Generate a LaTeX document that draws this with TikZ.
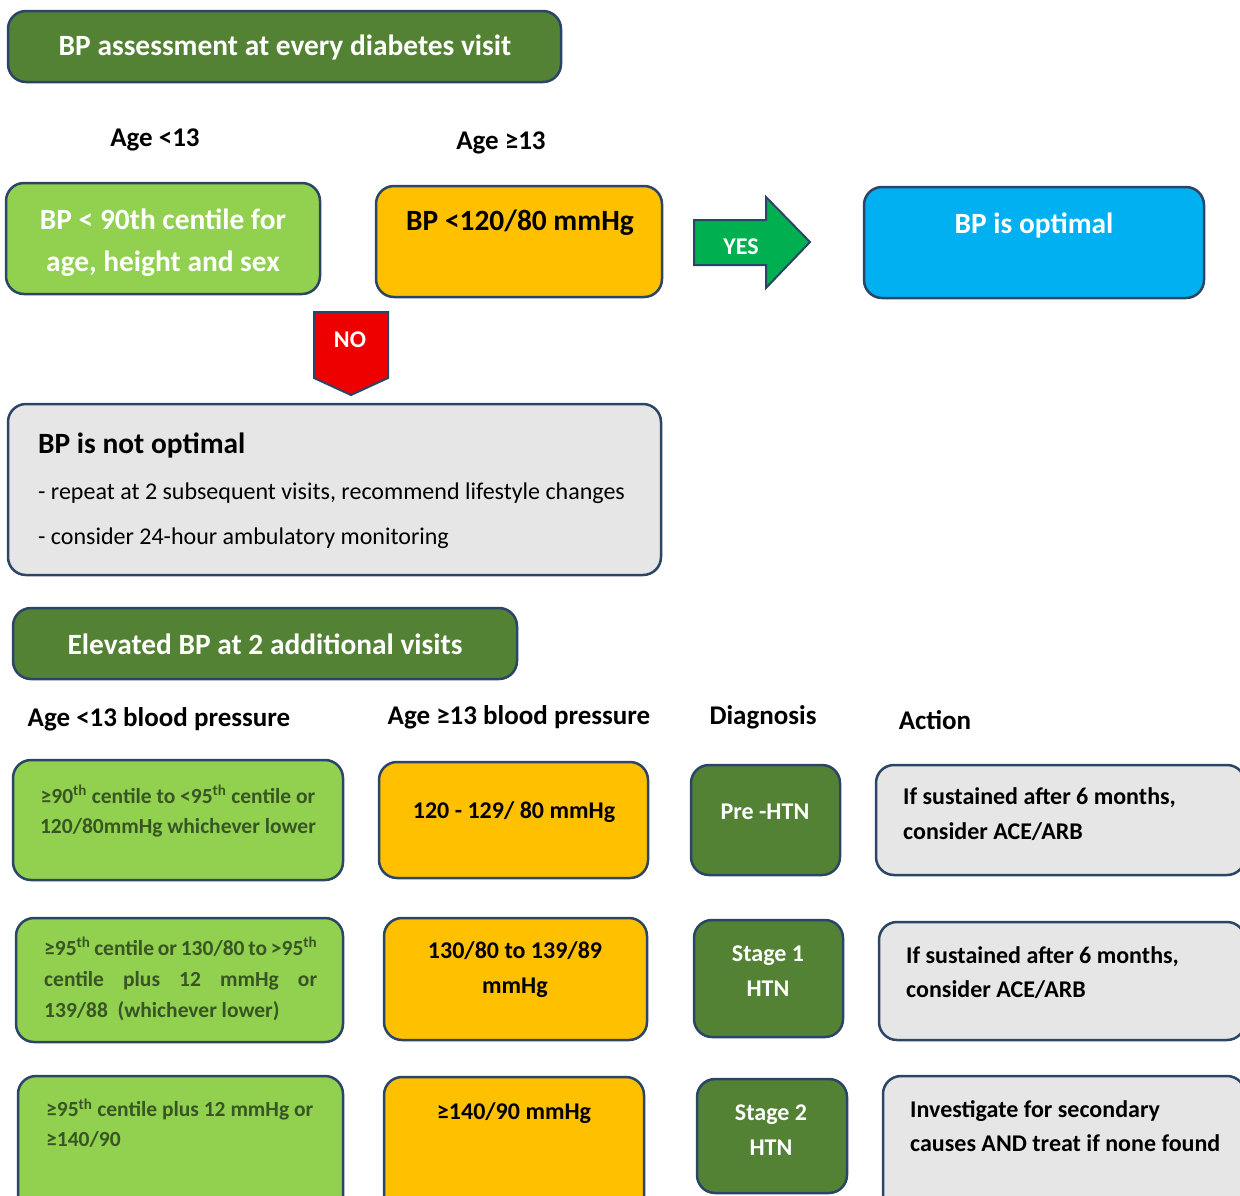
\documentclass[tikz,border=0pt]{standalone}
\usepackage{fontspec}
\setmainfont{Carlito}
\usetikzlibrary{positioning}

\definecolor{edge}{HTML}{2B4566}
\definecolor{darkgreen}{HTML}{548235}
\definecolor{lightgreen}{HTML}{92D050}
\definecolor{amber}{HTML}{FFC000}
\definecolor{skyblue}{HTML}{00B0F0}
\definecolor{lightgrey}{HTML}{E7E6E6}
\definecolor{yesgreen}{HTML}{00B050}
\definecolor{nored}{HTML}{EE0000}
\definecolor{greentext}{HTML}{375623}

\tikzset{
  box/.style={draw=edge, line width=2.5pt, rounded corners=18pt, inner sep=0pt},
  txt/.style={inner sep=0pt, font=\bfseries\fontsize{#1}{30}\selectfont},
  txt/.default=24,
  head/.style={inner sep=0pt, font=\bfseries\fontsize{27}{30}\selectfont},
}

\begin{document}
\begin{tikzpicture}[x=1pt, y=-1pt]
\useasboundingbox (0,0) rectangle (1240,1195);

% first part: screening
\node[box, fill=darkgreen, minimum width=553pt, minimum height=71pt] (visit) at (284.5,46.5) {};
\node[txt=29.4, text=white] (visittxt) at (285,47) {BP assessment at every diabetes visit};

\node[head] (young) at (155,140) {Age <13};
\node[head] (old) at (501,143) {Age ≥13};

\node[box, fill=lightgreen, minimum width=314pt, minimum height=111pt] (centile) at (163,238.5) {};
\node[inner sep=0pt, text=white, align=center, font=\bfseries\fontsize{29.4}{42}\selectfont] (centiletxt) at (163,243)
  {BP < 90th centile for\\age, height and sex};

\node[box, fill=amber, minimum width=286pt, minimum height=111pt] (limit) at (519,241.5) {};
\node[txt=29.4] (limittxt) at (520,223) {BP <120/80 mmHg};

\node[box, fill=skyblue, minimum width=340pt, minimum height=111pt] (optimal) at (1034,242.5) {};
\node[txt=29.4, text=white] (optimaltxt) at (1034,225) {BP is optimal};

% yes / no arrows
\draw[fill=yesgreen, draw=edge, line width=2pt]
  (694,220) -- (766,220) -- (766,197) -- (810,242) -- (766,288) -- (766,265) -- (694,265) -- cycle;
\node[txt=24, text=white] (yes) at (741,247) {YES};
\draw[fill=nored, draw=edge, line width=2pt]
  (314,312) -- (388,312) -- (388,378) -- (351,395) -- (314,378) -- cycle;
\node[txt=24, text=white] (no) at (350,340) {NO};

\node[box, fill=lightgrey, minimum width=653pt, minimum height=171pt] (notopt) at (334.5,489.5) {};
\node[txt=29.4, anchor=west] (notopttxt) at (38,445) {BP is not optimal};
\node[inner sep=0pt, anchor=west, font=\fontsize{24}{26}\selectfont] (repeat) at (38,493)
  {- repeat at 2 subsequent visits, recommend lifestyle changes};
\node[inner sep=0pt, anchor=west, font=\fontsize{24}{26}\selectfont] (ambulatory) at (38,538)
  {- consider 24-hour ambulatory monitoring};

% second part: staging
\node[box, fill=darkgreen, minimum width=504pt, minimum height=71pt] (elevated) at (265,643.5) {};
\node[txt=29.4, text=white] (elevatedtxt) at (265,644) {Elevated BP at 2 additional visits};

\node[head] (headyoung) at (159,719) {Age <13 blood pressure};
\node[head] (headold) at (519,717) {Age ≥13 blood pressure};
\node[head] (headdiag) at (763,717) {Diagnosis};
\node[head] (headact) at (935,720) {Action};

% row 1
\node[box, fill=lightgreen, minimum width=330pt, minimum height=120pt] (young1) at (178,820) {};
\node[inner sep=0pt, text=greentext, align=center, font=\bfseries\fontsize{21.5}{30}\selectfont] (young1txt) at (178,811)
  {≥90\textsuperscript{th} centile to <95\textsuperscript{th} centile or\\120/80mmHg whichever lower};
\node[box, fill=amber, minimum width=269pt, minimum height=116pt] (old1) at (513.5,820) {};
\node[txt] (old1txt) at (514,812) {120 - 129/ 80 mmHg};
\node[box, fill=darkgreen, minimum width=149pt, minimum height=110pt] (diag1) at (765.5,820) {};
\node[txt, text=white] (diag1txt) at (765,812) {Pre -HTN};
\node[box, fill=lightgrey, minimum width=369pt, minimum height=110pt] (act1) at (1060.5,820) {};
\node[inner sep=0pt, anchor=west, align=left, font=\bfseries\fontsize{24}{35}\selectfont] (act1txt) at (903,814.5)
  {If sustained after 6 months,\\consider ACE/ARB};

% row 2
\node[box, fill=lightgreen, minimum width=327pt, minimum height=124pt] (young2) at (179.5,980) {};
\node[inner sep=0pt, anchor=west, text width=273pt, align=justify, text=greentext,
  font=\bfseries\fontsize{21.5}{31}\selectfont] (young2txt) at (44,979)
  {≥95\textsuperscript{th} centile or 130/80 to >95\textsuperscript{th}\linebreak
   centile plus 12 mmHg or\linebreak 139/88\ \ (whichever lower)};
\node[box, fill=amber, minimum width=263pt, minimum height=122pt] (old2) at (515.5,979) {};
\node[inner sep=0pt, align=center, font=\bfseries\fontsize{24}{35}\selectfont] (old2txt) at (515,969.5)
  {130/80 to 139/89\\mmHg};
\node[box, fill=darkgreen, minimum width=149pt, minimum height=117pt] (diag2) at (768.5,978.5) {};
\node[inner sep=0pt, text=white, align=center, font=\bfseries\fontsize{24}{35}\selectfont] (diag2txt) at (768,971)
  {Stage 1\\HTN};
\node[box, fill=lightgrey, minimum width=366pt, minimum height=118pt] (act2) at (1062,981) {};
\node[inner sep=0pt, anchor=west, align=left, font=\bfseries\fontsize{24}{34}\selectfont] (act2txt) at (906,973)
  {If sustained after 6 months,\\consider ACE/ARB};

% row 3
\node[box, fill=lightgreen, minimum width=325pt, minimum height=139pt] (young3) at (180.5,1145.5) {};
\node[inner sep=0pt, anchor=west, align=left, text=greentext, font=\bfseries\fontsize{21.5}{30}\selectfont] (young3txt) at (46,1123)
  {≥95\textsuperscript{th} centile plus 12 mmHg or\\≥140/90};
\node[box, fill=amber, minimum width=260pt, minimum height=138pt] (old3) at (514,1146) {};
\node[txt] (old3txt) at (514,1113) {≥140/90 mmHg};
\node[box, fill=darkgreen, minimum width=150pt, minimum height=114pt] (diag3) at (772,1136) {};
\node[inner sep=0pt, text=white, align=center, font=\bfseries\fontsize{24}{35}\selectfont] (diag3txt) at (771,1130)
  {Stage 2\\HTN};
\node[box, fill=lightgrey, minimum width=362pt, minimum height=139pt] (act3) at (1064,1145.5) {};
\node[inner sep=0pt, anchor=west, align=left, font=\bfseries\fontsize{24}{34}\selectfont] (act3txt) at (910,1126)
  {Investigate for secondary\\causes AND treat if none found};
\end{tikzpicture}
\end{document}
